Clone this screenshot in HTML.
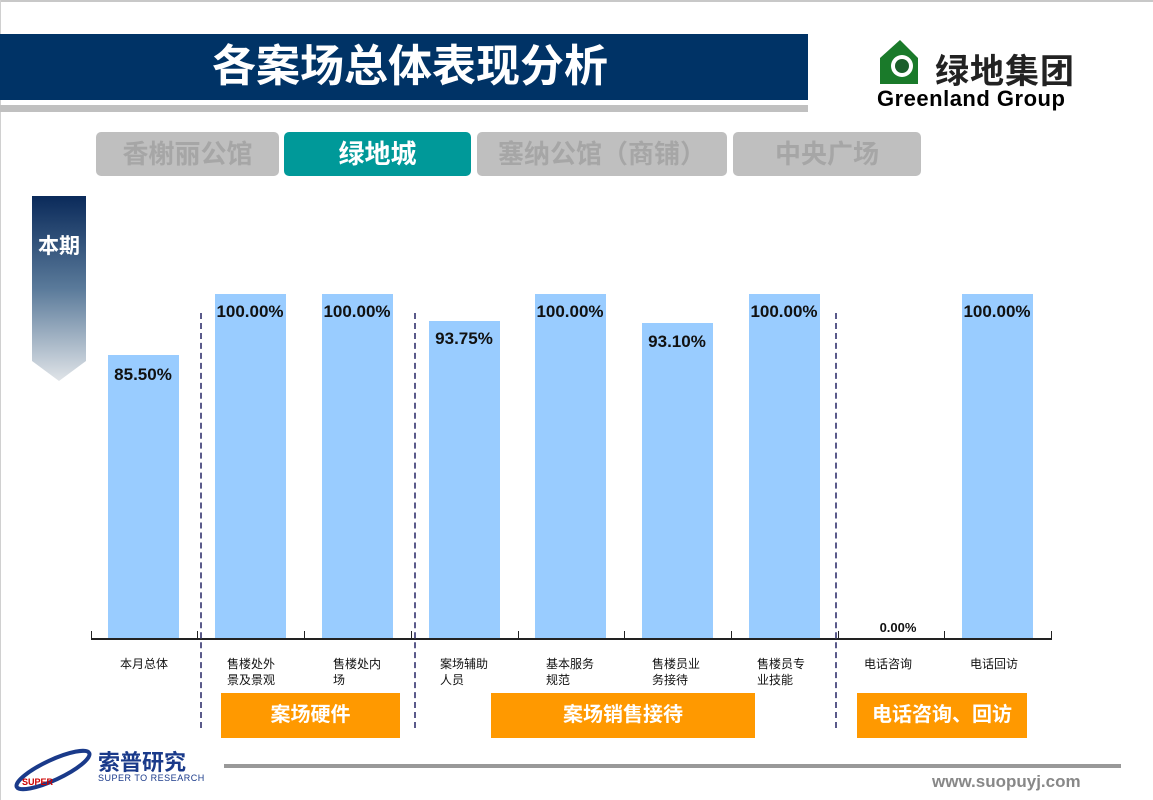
<!DOCTYPE html>
<html><head><meta charset="utf-8"><style>
*{margin:0;padding:0;box-sizing:border-box}
body{width:1153px;height:800px;background:#fff;position:relative;overflow:hidden;font-family:"Liberation Sans","Noto Sans CJK SC",sans-serif}
.a{position:absolute}
.bar{position:absolute;background:#99ccff;width:71px}
.val{position:absolute;width:110px;text-align:center;font-weight:bold;font-size:17px;color:#111}
.cat{position:absolute;font-size:12px;line-height:16px;color:#111}
.tab{position:absolute;top:132px;height:44px;border-radius:5px;background:#bfbfbf;color:#a6a6a6;font-weight:bold;font-size:26px;text-align:center;line-height:44px}
.org{position:absolute;top:693px;height:45px;background:#ff9900;color:#fff;font-weight:bold;font-size:20px;text-align:center;line-height:45px}
.dash{position:absolute;top:313px;height:415px;border-left:2px dashed #5a5a8a;width:0}
</style></head><body>
<div class="a" style="left:0;top:0;width:1153px;height:2px;background:#c8c8c8"></div>
<div class="a" style="left:0;top:0;width:1px;height:800px;background:#d0d0d0"></div>
<div class="a" style="left:0;top:34px;width:808px;height:66px;background:#003366"></div>
<div class="a" style="left:0;top:34px;width:820px;height:66px;color:#fff;font-size:44px;font-weight:bold;text-align:center;line-height:66px">各案场总体表现分析</div>
<div class="a" style="left:0;top:105px;width:808px;height:7px;background:#c0c0c0"></div>
<svg class="a" style="left:878px;top:38px" width="50" height="50"><polygon points="2,46 2,20 22,2 40,20 40,46" fill="#1a7a2a"/><circle cx="24" cy="28" r="11" fill="#fff"/><circle cx="24" cy="28" r="7" fill="#1a5e2a"/></svg>
<div class="a" style="left:935px;top:44px;font-size:34px;font-weight:bold;color:#222;letter-spacing:1px">绿地集团</div>
<div class="a" style="left:877px;top:86px;font-size:22px;font-weight:bold;color:#000;letter-spacing:0.5px">Greenland Group</div>
<div class="tab" style="left:96px;width:183px">香榭丽公馆</div>
<div class="tab" style="left:284px;width:187px;background:#009999;color:#fff">绿地城</div>
<div class="tab" style="left:477px;width:250px">塞纳公馆（商铺）</div>
<div class="tab" style="left:733px;width:188px">中央广场</div>
<svg class="a" style="left:32px;top:196px" width="54" height="186"><defs><linearGradient id="g" x1="0" y1="0" x2="0" y2="1"><stop offset="0" stop-color="#0a2a5a"/><stop offset="0.5" stop-color="#5a7a9a"/><stop offset="1" stop-color="#e0e4e8"/></linearGradient></defs><polygon points="0,0 54,0 54,165 27,185 0,165" fill="url(#g)"/></svg>
<div class="a" style="left:32px;top:230px;width:54px;text-align:center;color:#fff;font-weight:bold;font-size:21px">本期</div>
<div class="bar" style="left:108px;top:355px;height:284px"></div>
<div class="bar" style="left:215px;top:294px;height:345px"></div>
<div class="bar" style="left:322px;top:294px;height:345px"></div>
<div class="bar" style="left:429px;top:321px;height:318px"></div>
<div class="bar" style="left:535px;top:294px;height:345px"></div>
<div class="bar" style="left:642px;top:323px;height:316px"></div>
<div class="bar" style="left:749px;top:294px;height:345px"></div>
<div class="bar" style="left:962px;top:294px;height:345px"></div>
<div class="val" style="left:88px;top:365px">85.50%</div>
<div class="val" style="left:195px;top:302px">100.00%</div>
<div class="val" style="left:302px;top:302px">100.00%</div>
<div class="val" style="left:409px;top:329px">93.75%</div>
<div class="val" style="left:515px;top:302px">100.00%</div>
<div class="val" style="left:622px;top:332px">93.10%</div>
<div class="val" style="left:729px;top:302px">100.00%</div>
<div class="val" style="left:843px;top:620px;font-size:13px">0.00%</div>
<div class="val" style="left:942px;top:302px">100.00%</div>
<div class="a" style="left:91px;top:638px;width:961px;height:2px;background:#222"></div>
<div class="a" style="left:91px;top:631px;width:1px;height:8px;background:#222"></div>
<div class="a" style="left:197px;top:631px;width:1px;height:8px;background:#222"></div>
<div class="a" style="left:304px;top:631px;width:1px;height:8px;background:#222"></div>
<div class="a" style="left:411px;top:631px;width:1px;height:8px;background:#222"></div>
<div class="a" style="left:518px;top:631px;width:1px;height:8px;background:#222"></div>
<div class="a" style="left:624px;top:631px;width:1px;height:8px;background:#222"></div>
<div class="a" style="left:731px;top:631px;width:1px;height:8px;background:#222"></div>
<div class="a" style="left:838px;top:631px;width:1px;height:8px;background:#222"></div>
<div class="a" style="left:944px;top:631px;width:1px;height:8px;background:#222"></div>
<div class="a" style="left:1051px;top:631px;width:1px;height:8px;background:#222"></div>
<div class="dash" style="left:200px"></div>
<div class="dash" style="left:414px"></div>
<div class="dash" style="left:835px"></div>
<div class="cat" style="left:120px;top:656px">本月总体</div>
<div class="cat" style="left:227px;top:656px">售楼处外<br>景及景观</div>
<div class="cat" style="left:333px;top:656px">售楼处内<br>场</div>
<div class="cat" style="left:440px;top:656px">案场辅助<br>人员</div>
<div class="cat" style="left:546px;top:656px">基本服务<br>规范</div>
<div class="cat" style="left:652px;top:656px">售楼员业<br>务接待</div>
<div class="cat" style="left:757px;top:656px">售楼员专<br>业技能</div>
<div class="cat" style="left:864px;top:656px">电话咨询</div>
<div class="cat" style="left:970px;top:656px">电话回访</div>
<div class="org" style="left:221px;width:179px">案场硬件</div>
<div class="org" style="left:491px;width:264px">案场销售接待</div>
<div class="org" style="left:857px;width:170px">电话咨询、回访</div>
<svg class="a" style="left:8px;top:740px" width="90" height="55"><ellipse cx="45" cy="30" rx="40" ry="10" fill="none" stroke="#1a3a8a" stroke-width="4" transform="rotate(-25 45 30)"/><text x="14" y="45" font-size="9" fill="#c00" font-weight="bold" font-family="Liberation Sans">SUPER</text></svg>
<div class="a" style="left:98px;top:745px;font-size:22px;font-weight:bold;color:#1a3a8a">索普研究</div>
<div class="a" style="left:98px;top:773px;font-size:9px;color:#1a3a8a;letter-spacing:0.5px">SUPER TO RESEARCH</div>
<div class="a" style="left:224px;top:764px;width:897px;height:4px;background:#999"></div>
<div class="a" style="left:932px;top:772px;font-size:17px;font-weight:bold;color:#888">www.suopuyj.com</div>
</body></html>
